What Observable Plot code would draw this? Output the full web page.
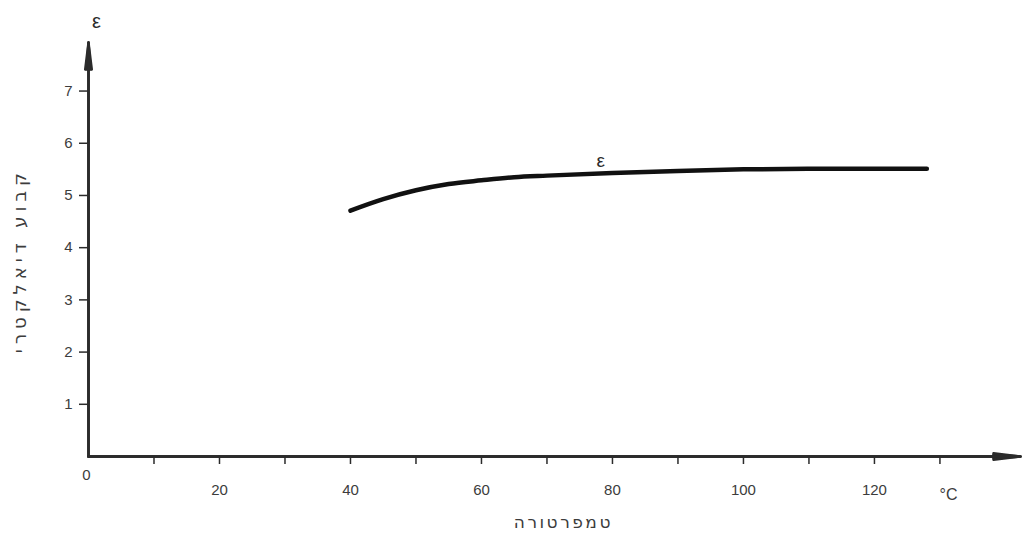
<!DOCTYPE html>
<html>
<head>
<meta charset="utf-8">
<script src="https://cdn.jsdelivr.net/npm/d3@7"></script>
<script src="https://cdn.jsdelivr.net/npm/@observablehq/plot@0.6"></script>
<style>
  html, body { margin: 0; padding: 0; background: #fff; }
  #chart svg { display: block; }
</style>
</head>
<body>
<div id="chart"></div>
<script>
// Dielectric constant ε versus temperature (°C)
const temperature = [40, 45, 50, 55, 60, 65, 70, 80, 90, 100, 110, 120, 128];
const epsilon     = [4.71, 4.93, 5.10, 5.22, 5.29, 5.35, 5.38, 5.43, 5.47, 5.50, 5.51, 5.51, 5.51];

const xTicks = [10, 20, 30, 40, 50, 60, 70, 80, 90, 100, 110, 120, 130];
const xTickLabels = ["", "20", "", "40", "", "60", "", "80", "", "100", "", "120", ""];
const yTicks = [1, 2, 3, 4, 5, 6, 7];

const xTitle = "טמפרטורה";
const yTitle = "קבוע דיאלקטרי";
const unitLabel = "°C";
const originLabel = "0";
const seriesLabel = "ε";

const curve = temperature.map((t, i) => ({t, e: epsilon[i]}));
const labelFor = new Map(xTicks.map((t, i) => [t, xTickLabels[i]]));

const xMax = 142.3, yMax = 7.93;
const ink = "#2b2b2b", textInk = "#3c3c3c";

// axis line plus a solid, slender arrowhead built from nested narrow heads
const axisArrow = (seg) => [4, 9, 14].map(angle =>
  Plot.arrow([seg], {
    x1: "x1", y1: "y1", x2: "x2", y2: "y2",
    stroke: ink, strokeWidth: 2.4, headLength: 17, headAngle: angle, bend: 0
  })
);

const chart = Plot.plot({
  width: 1035,
  height: 553,
  marginLeft: 88,
  marginRight: 15,
  marginTop: 42,
  marginBottom: 97,
  x: {domain: [0, xMax]},
  y: {domain: [0, yMax]},
  style: {fontFamily: "Liberation Sans, sans-serif", fontSize: "15px", color: textInk, background: "#fff"},
  marks: [
    ...axisArrow({x1: 0, y1: 0, x2: xMax, y2: 0}),
    ...axisArrow({x1: 0, y1: 0, x2: 0, y2: yMax}),
    Plot.axisX({
      ticks: xTicks, tickSize: 8, tickPadding: 20,
      tickFormat: d => labelFor.get(d), stroke: ink, strokeWidth: 1.5,
      fill: textInk, label: null, fontSize: 15
    }),
    Plot.axisY({
      ticks: yTicks, tickSize: 9, tickPadding: 7,
      stroke: ink, strokeWidth: 1.5, fill: textInk, label: null, fontSize: 15
    }),
    Plot.text([originLabel], {x: 0, y: 0, text: d => d, dx: -2, dy: 19, fill: textInk, fontSize: 15}),
    Plot.text([unitLabel], {x: 131.3, y: 0, text: d => d, dy: 38, fill: textInk, fontSize: 16}),
    Plot.text([seriesLabel], {x: 0, y: yMax, text: d => d, dx: 8, dy: -21, fill: ink, fontSize: 20}),
    // axis titles
    Plot.text([xTitle], {x: 72.5, y: 0, text: d => d, dy: 66, fill: textInk, fontSize: 17,
      fontFamily: "DejaVu Sans, sans-serif"}),
    Plot.text([yTitle], {x: -10.4, y: 3.75, text: d => d, rotate: -90, fill: textInk, fontSize: 18,
      fontFamily: "DejaVu Sans, sans-serif"}),
    // ε curve
    Plot.line(curve, {x: "t", y: "e", curve: "monotone-x", stroke: "#111", strokeWidth: 4.5, strokeLinecap: "round"}),
    Plot.text([seriesLabel], {x: 78.2, y: 5.42, text: d => d, dy: -13, fill: ink, fontSize: 19})
  ]
});

// the axis titles are set with wide letter spacing
const spacing = new Map([[xTitle, 2.5], [yTitle, 5]]);
d3.select(chart).selectAll("text")
  .filter(function () { return spacing.has(this.textContent); })
  .attr("letter-spacing", function () { return spacing.get(this.textContent); });

document.getElementById("chart").append(chart);
</script>
</body>
</html>
